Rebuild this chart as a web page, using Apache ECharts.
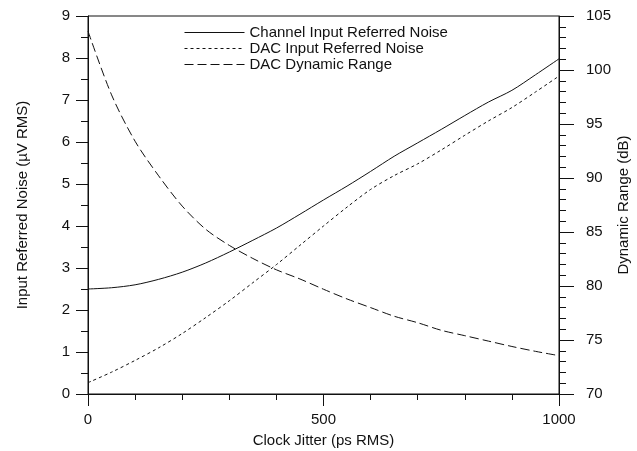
<!DOCTYPE html>
<html><head><meta charset="utf-8">
<script src="https://cdn.jsdelivr.net/npm/echarts@6/dist/echarts.min.js"></script>
<style>html,body{margin:0;padding:0;background:#fff}#c{width:637px;height:451px}</style>
</head><body><div id="c"></div>
<script>
const jitter = [0,50,100,150,200,250,300,350,400,450,500,550,600,650,700,750,800,850,900,950,1000];
const channelNoise = [2.5,2.53,2.6,2.73,2.9,3.12,3.38,3.66,3.95,4.28,4.62,4.95,5.3,5.66,5.98,6.3,6.63,6.95,7.23,7.6,7.98];
const dacNoise = [0.27,0.52,0.8,1.1,1.44,1.82,2.22,2.65,3.08,3.54,4.0,4.45,4.87,5.2,5.48,5.81,6.16,6.5,6.82,7.19,7.57];
const dacRange = [103.6,97.7,93.4,90.2,87.4,85.25,83.76,82.55,81.5,80.65,79.7,78.8,78.0,77.2,76.6,75.9,75.4,74.9,74.4,73.95,73.55];
const seriesNames = ['Channel Input Referred Noise','DAC Input Referred Noise','DAC Dynamic Range'];

const pair = arr => jitter.map((x,i)=>[x,arr[i]]);
const font = 'Liberation Sans, Arial, sans-serif';
const ink = '#111';
const fs = 15;
const chart = echarts.init(document.getElementById('c'), null, {renderer:'canvas'});
chart.setOption({
  animation:false,
  backgroundColor:'#fff',
  grid:{left:88,right:78,top:16,bottom:57,show:true,borderColor:ink,borderWidth:1,backgroundColor:'transparent',
        containLabel:false,outerBoundsMode:'none'},
  legend:{
    show:true, orient:'vertical', left:179, top:20, itemWidth:60, itemHeight:14, itemGap:1,
    textStyle:{fontFamily:font,fontSize:fs,color:ink},
    itemStyle:{color:'transparent',borderWidth:0,opacity:0},
    lineStyle:{width:1,color:ink},
    data:seriesNames
  },
  xAxis:{type:'value',min:0,max:1000,interval:500,
    name:'Clock Jitter (ps RMS)',nameLocation:'middle',nameGap:39,
    nameTextStyle:{fontFamily:font,fontSize:fs,color:ink},
    axisLine:{lineStyle:{color:ink,width:1}},
    axisTick:{length:12,lineStyle:{color:ink}},
    minorTick:{show:true,splitNumber:5,length:6,lineStyle:{color:ink}},
    axisLabel:{fontFamily:font,fontSize:fs,color:ink,margin:18,formatter:v=>String(v)},
    splitLine:{show:false}},
  yAxis:[
    {type:'value',min:0,max:9,interval:1,position:'left',
     name:'Input Referred Noise (µV RMS)',nameLocation:'middle',nameGap:58,
     nameTextStyle:{fontFamily:font,fontSize:fs,color:ink},
     axisLine:{show:true,lineStyle:{color:ink}},
     axisTick:{length:12,lineStyle:{color:ink}},
     minorTick:{show:true,splitNumber:2,length:7,lineStyle:{color:ink}},
     axisLabel:{fontFamily:font,fontSize:fs,color:ink,margin:18},
     splitLine:{show:false}},
    {type:'value',min:70,max:105,interval:5,position:'right',
     name:'Dynamic Range (dB)',nameLocation:'middle',nameGap:57,nameMoveOverlap:false,
     nameTextStyle:{fontFamily:font,fontSize:fs,color:ink},
     axisLine:{show:true,lineStyle:{color:ink}},
     axisTick:{length:15,lineStyle:{color:ink}},
     minorTick:{show:true,splitNumber:5,length:7,lineStyle:{color:ink}},
     axisLabel:{fontFamily:font,fontSize:fs,color:ink,margin:27},
     splitLine:{show:false}}
  ],
  series:[
    {name:seriesNames[0],type:'line',yAxisIndex:0,data:pair(channelNoise),showSymbol:false,symbol:'none',smooth:0.3,
     lineStyle:{color:ink,width:1,type:'solid'},itemStyle:{color:ink}},
    {name:seriesNames[1],type:'line',yAxisIndex:0,data:pair(dacNoise),showSymbol:false,symbol:'none',smooth:0.3,
     lineStyle:{color:ink,width:1,type:[3,3]},itemStyle:{color:ink}},
    {name:seriesNames[2],type:'line',yAxisIndex:1,data:pair(dacRange),showSymbol:false,symbol:'none',smooth:0.3,
     lineStyle:{color:ink,width:1,type:[9,4]},itemStyle:{color:ink}}
  ]
});
</script></body></html>
